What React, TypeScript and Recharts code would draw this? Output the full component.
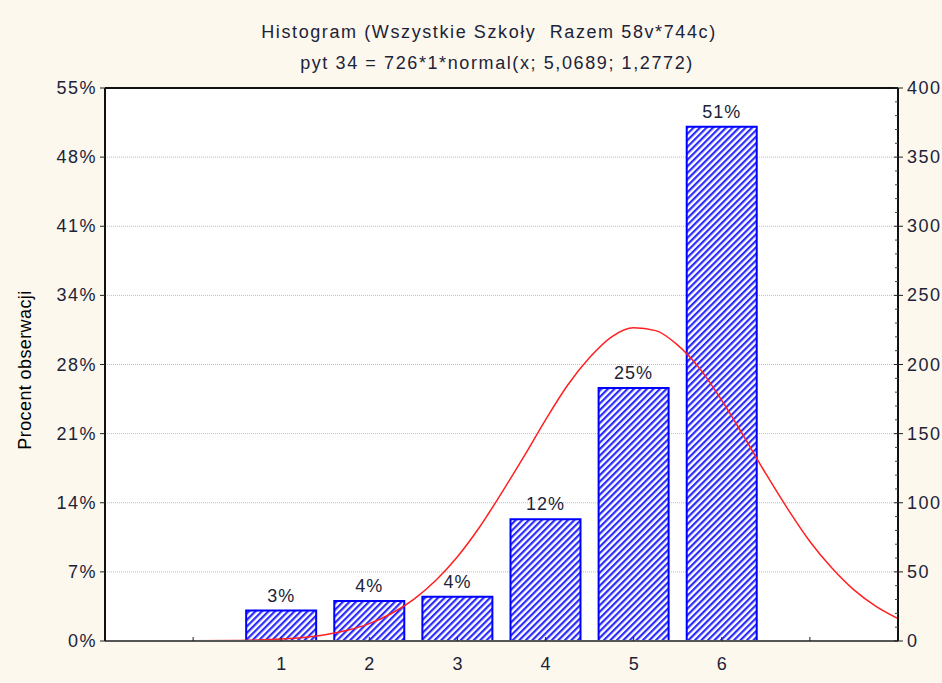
import { ComposedChart, Bar, Line, XAxis, YAxis, CartesianGrid, LabelList, ReferenceLine } from "recharts";

const categories = [1, 2, 3, 4, 5, 6];
const counts = [22, 29, 32, 88, 183, 372];
const pctLabels = ["3%", "4%", "4%", "12%", "25%", "51%"];

const countTicks = [0, 50, 100, 150, 200, 250, 300, 350, 400];
const pctTickLabels = ["0%", "7%", "14%", "21%", "28%", "34%", "41%", "48%", "55%"];
const minorTicks = [
  0, 10, 20, 30, 40, 50, 60, 70, 80, 90, 100, 110, 120, 130, 140, 150, 160, 170, 180, 190, 200,
  210, 220, 230, 240, 250, 260, 270, 280, 290, 300, 310, 320, 330, 340, 350, 360, 370, 380, 390, 400,
];
const xTicks = [0, 1, 2, 3, 4, 5, 6, 7];

// fitted normal curve
const curveX = [-1, -0.5, 0, 0.5, 1, 1.5, 1.75, 2, 2.25, 2.5, 2.75, 3, 3.25, 3.5, 3.75, 4, 4.25, 4.5, 4.75, 5, 5.25, 5.5, 5.75, 6, 6.25, 6.5, 6.75, 7, 7.25, 7.5, 7.75, 8];
const curveY = [0, 0.01, 0.09, 0.38, 1.4, 4.6, 7.8, 12.6, 19.9, 30, 43.6, 61, 82.3, 107, 133, 160, 185, 205, 220, 226.5, 224.5, 214, 197, 174, 148, 121, 95.4, 72, 52.8, 37, 25.1, 16.3];

const barData = categories.map((x, i) => ({ x, count: counts[i], pct: pctLabels[i] }));
const curveData = curveX.map((x, i) => ({ x, fit: curveY[i] }));

const FONT = "'Liberation Sans', Arial, sans-serif";
const TEXT = "#1c2338";
const BG = "#fcf8ee";

const XTick = (props: any) => {
  const { x, y, payload } = props;
  const axisY = y - 8;
  const v = payload.value;
  const show = v >= 1 && v <= 6;
  return (
    <g>
      <line x1={x} x2={x} y1={axisY} y2={axisY - 4} stroke="#222" strokeWidth={1} />
      {show && (
        <text x={x} y={axisY + 29} textAnchor="middle" fontSize={18} fontFamily={FONT} fill={TEXT}>
          {v}
        </text>
      )}
    </g>
  );
};

const RightTick = (props: any) => {
  const { x, y, payload } = props;
  const axisX = x - 8;
  const v = payload.value;
  const major = v % 50 === 0;
  return (
    <g>
      {major ? (
        <>
          <line x1={axisX - 4} x2={axisX + 5} y1={y} y2={y} stroke="#222" strokeWidth={1} />
          <text x={axisX + 9} y={y + 6} textAnchor="start" fontSize={18} letterSpacing={1.5} fontFamily={FONT} fill={TEXT}>
            {v}
          </text>
        </>
      ) : (
        <line x1={axisX - 3} x2={axisX} y1={y} y2={y} stroke="#444" strokeWidth={1} />
      )}
    </g>
  );
};

const LeftTick = (props: any) => {
  const { x, y, index } = props;
  return (
    <text x={x} y={y + 6} textAnchor="end" fontSize={18} letterSpacing={1.5} fontFamily={FONT} fill={TEXT}>
      {pctTickLabels[index]}
    </text>
  );
};

export default function App() {
  return (
    <div style={{ position: "absolute", left: 0, top: 0, width: 942, height: 683, background: BG, fontFamily: FONT }}>
      <div style={{ position: "absolute", left: 0, width: 978, top: 22, textAlign: "center", fontSize: 18, letterSpacing: 1.6, color: TEXT }}>
        Histogram (Wszystkie Szkoły&nbsp; Razem 58v*744c)
      </div>
      <div style={{ position: "absolute", left: 0, width: 994, top: 53, textAlign: "center", fontSize: 18, letterSpacing: 1.6, color: TEXT }}>
        pyt 34 = 726*1*normal(x; 5,0689; 1,2772)
      </div>
      <div
        style={{
          position: "absolute",
          left: 25,
          top: 370,
          transform: "translate(-50%, -50%) rotate(-90deg)",
          whiteSpace: "nowrap",
          fontSize: 18,
          letterSpacing: 0.4,
          color: "#000",
        }}
      >
        Procent obserwacji
      </div>
      <ComposedChart
        width={942}
        height={683}
        data={barData}
        margin={{ top: 88, right: 0, bottom: 0, left: 0 }}
        style={{ position: "absolute", left: 0, top: 0 }}
      >
        <defs>
          <pattern id="hatch" patternUnits="userSpaceOnUse" width={4.6} height={4.6} patternTransform="rotate(45)">
            <rect x={0} y={0} width={4.6} height={4.6} fill="#ffffff" />
            <rect x={0} y={0} width={2.2} height={4.6} fill="#2b2bff" />
          </pattern>
        </defs>
        <CartesianGrid yAxisId="pct" vertical={false} fill="#ffffff" stroke="#bdbdbd" strokeDasharray="1 1" />
        <XAxis
          dataKey="x"
          type="number"
          domain={[-1, 8]}
          ticks={xTicks}
          allowDataOverflow
          height={42}
          tickSize={5}
          tickMargin={3}
          tickLine={false}
          axisLine={{ stroke: "#555", strokeWidth: 2 }}
          tick={<XTick />}
          interval={0}
        />
        <XAxis xAxisId="curve" dataKey="x" type="number" domain={[-1, 8]} allowDataOverflow hide />
        <YAxis
          yAxisId="pct"
          orientation="left"
          domain={[0, 400]}
          ticks={countTicks}
          width={105}
          tickSize={5}
          tickMargin={3}
          interval={0}
          tick={<LeftTick />}
          tickLine={{ stroke: "#222" }}
          axisLine={{ stroke: "#111", strokeWidth: 2 }}
        />
        <YAxis
          yAxisId="count"
          orientation="right"
          domain={[0, 400]}
          ticks={minorTicks}
          width={44}
          tickSize={5}
          tickMargin={3}
          interval={0}
          tickLine={false}
          tick={<RightTick />}
          axisLine={{ stroke: "#111", strokeWidth: 2 }}
        />
        <ReferenceLine yAxisId="count" y={400} stroke="#111" strokeWidth={2} />
        <Bar
          yAxisId="pct"
          dataKey="count"
          barSize={70}
          fill="url(#hatch)"
          stroke="#0000ff"
          strokeWidth={2}
          isAnimationActive={false}
        >
          <LabelList dataKey="pct" position="top" offset={9} fontSize={18} letterSpacing={1} fontFamily={FONT} fill={TEXT} />
        </Bar>
        <Line
          yAxisId="count"
          xAxisId="curve"
          data={curveData}
          dataKey="fit"
          type="monotone"
          stroke="#ff2020"
          strokeWidth={1.5}
          dot={false}
          activeDot={false}
          isAnimationActive={false}
        />
      </ComposedChart>
    </div>
  );
}
